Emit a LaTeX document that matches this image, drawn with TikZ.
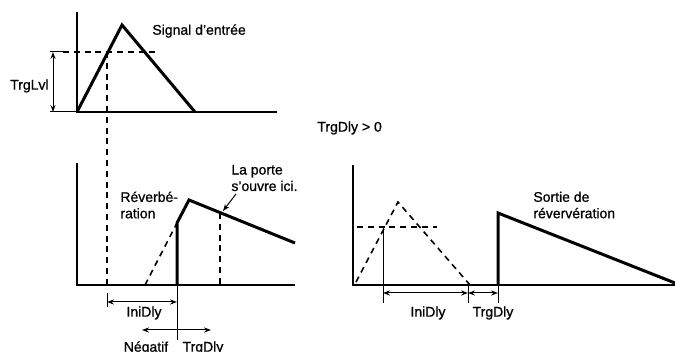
\documentclass[tikz,border=0pt]{standalone}
\usepackage{fontspec}
\setmainfont{Liberation Sans}[BoldFont={Liberation Sans}, BoldFeatures={FakeBold=0.8}]
\usepackage{tikz}
\usetikzlibrary{arrows.meta, positioning, calc}

\begin{document}
\begin{tikzpicture}[
    x=0.5pt, y=-0.5pt,
    axis/.style={line width=1pt},
    sig/.style={line width=1.5pt, line join=miter},
    guide/.style={line width=0.8pt, dash pattern=on 3pt off 2.4pt},
    tick/.style={line width=0.5pt},
    dim/.style={{Stealth[length=3.5pt, width=2.6pt]}-{Stealth[length=3.5pt, width=2.6pt]}, line width=0.5pt},
    oneway/.style={-{Stealth[length=3.5pt, width=2.6pt]}, line width=0.5pt},
    lbl/.style={font=\fontsize{7}{8.2}\selectfont\bfseries, inner sep=0pt, align=left}
]
\useasboundingbox (0,0) rectangle (675,352);

% top: input signal
\coordinate (o1) at (77,112);
\draw[axis] (77,12) -- (o1) -- (277,112);
\draw[sig] (o1) -- (122,25) -- (195,112);
\draw[guide] (63,52) -- (160,52);
\node[lbl, anchor=west] (insig) at (152,31) {Signal d'entrée};

% TrgLvl
\coordinate (lvltop) at (53,52);
\coordinate (lvlbot) at (53,112);
\draw[tick] (50,52) -- (64,52);
\draw[tick] (50,112) -- (o1);
\draw[dim] (lvltop) -- (lvlbot);
\node[lbl, anchor=east] (trglvl) at (49,86) {TrgLvl};

% trigger point carried down
\coordinate (trig) at (107,52);
\coordinate (trigdn) at (107,285);
\draw[guide] (trig) -- (trigdn);

\node[lbl, anchor=west] (cond) at (317,128) {TrgDly > 0};

% middle left: reverb, gate
\coordinate (o2) at (77,285);
\draw[axis] (77,163) -- (o2) -- (295,285);
\draw[guide] (145,285) -- (177,223);
\draw[sig] (177,285) -- (177,223) -- (189,200) -- (295,243);
\draw[guide] (220,213) -- (220,285);
\node[lbl, anchor=west] (reverb) at (120,205) {Réverbé-\\ration};
\node[lbl, anchor=west] (gate) at (231,178) {La porte\\s'ouvre ici.};
\draw[oneway] (236,194) -- (223,211);

% IniDly / TrgDly, left
\coordinate (ini1) at (107,302);
\coordinate (ini2) at (177,302);
\coordinate (zero) at (177,330);
\draw[tick] (107,293) -- (107,307);
\draw[tick] (177,285) -- (177,340);
\draw[dim] (ini1) -- (ini2);
\node[lbl] (inilbl) at (144,313) {IniDly};
\draw[oneway] (zero) -- (142,330);
\draw[oneway] (zero) -- (211,330);
\node[lbl] (neg) at (146,348) {Négatif};
\node[lbl] (pos) at (203,348) {TrgDly};

% right: reverb output
\coordinate (o3) at (353,285);
\draw[axis] (353,165) -- (o3) -- (675,285);
\draw[guide] (356,282) -- (398,202) -- (470,285);
\draw[guide] (357,227) -- (437,227);
\draw[tick] (383,227) -- (383,303);
\draw[tick] (468,285) -- (468,303);
\draw[tick] (498,285) -- (498,303);
\draw[sig] (498,285) -- (498,213) -- (675,283);
\draw[dim] (383,293) -- (468,293);
\draw[dim] (468,293) -- (498,293);
\node[lbl] (inir) at (428,313) {IniDly};
\node[lbl] (trgr) at (493,313) {TrgDly};
\node[lbl, anchor=west] (out) at (533,205) {Sortie de\\révervération};
\end{tikzpicture}
\end{document}
